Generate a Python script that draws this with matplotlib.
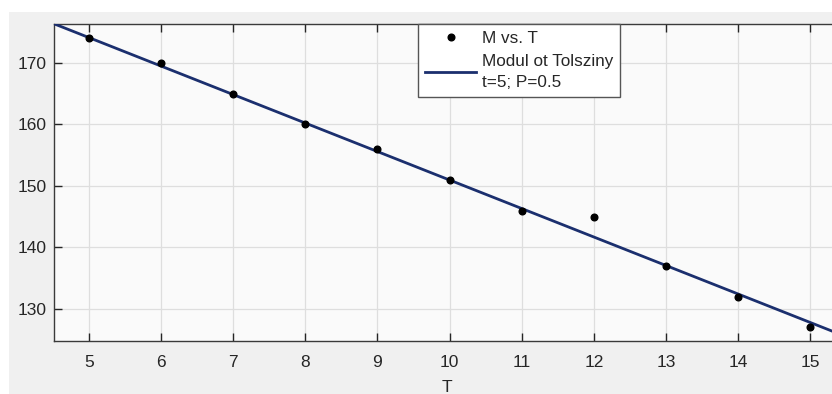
import matplotlib.pyplot as plt
from matplotlib.patches import Rectangle

plt.rcParams['font.family'] = ['Liberation Sans', 'DejaVu Sans']

# measured points
T = [5, 6, 7, 8, 9, 10, 11, 12, 13, 14, 15]
M = [174, 170, 165, 160, 156, 151, 146, 145, 137, 132, 127]

# model line (end points)
line_T = [4.5, 15.5]
line_M = [176.4, 125.5]

xticks = [5, 6, 7, 8, 9, 10, 11, 12, 13, 14, 15]
yticks = [130, 140, 150, 160, 170]

W, H = 832, 394
fig = plt.figure(figsize=(W / 100, H / 100), dpi=100)
fig.patch.set_facecolor('white')
# grey MATLAB-style window background (screenshot is cropped at top/left)
bg = Rectangle((9 / W, 0), 1, 1 - 12 / H, transform=fig.transFigure,
               facecolor='#f0f0f0', edgecolor='none', zorder=-10)
fig.add_artist(bg)

ax = fig.add_axes([54 / W, 53 / H, 785 / W, 317 / H])
ax.set_zorder(1)
ax.set_facecolor('#fafafa')

ax.plot(line_T, line_M, color='#1b2f6e', lw=2.0, label='Modul ot Tolsziny\nt=5; P=0.5', zorder=3)
ax.plot(T, M, 'o', color='black', ms=4.8, label='M vs. T', zorder=4)

ax.set_xlim(4.514, 15.4)
ax.set_ylim(124.8, 176.3)
ax.set_xticks(xticks)
ax.set_yticks(yticks)
ax.grid(True, color='#dedede', lw=0.9)
ax.set_axisbelow(True)

ax.tick_params(direction='in', length=5.5, width=1.0, colors='#262626', labelsize=12.5,
               top=True, right=False)
ax.tick_params(axis='x', pad=10)
ax.tick_params(axis='y', pad=5)
for s in ['left', 'bottom', 'top']:
    ax.spines[s].set_color('#3a3a3a')
    ax.spines[s].set_linewidth(1.0)
ax.spines['right'].set_visible(False)

ax.set_xlabel('T', fontsize=12.5, color='#262626', labelpad=7)

h, l = ax.get_legend_handles_labels()
leg = ax.legend([h[1], h[0]], [l[1], l[0]], loc='upper left',
                bbox_to_anchor=(418 / W, 1 - 24 / H), bbox_transform=fig.transFigure,
                fontsize=12.3, handlelength=3.0, handletextpad=0.3, borderpad=0.42,
                labelspacing=0.45, fancybox=False, framealpha=1, borderaxespad=0)
for t in leg.get_texts():
    t.set_linespacing(1.5)
    t.set_color('#262626')
leg.get_frame().set_edgecolor('#555555')
leg.get_frame().set_linewidth(1.0)

fig.savefig('out.png', dpi=100)
